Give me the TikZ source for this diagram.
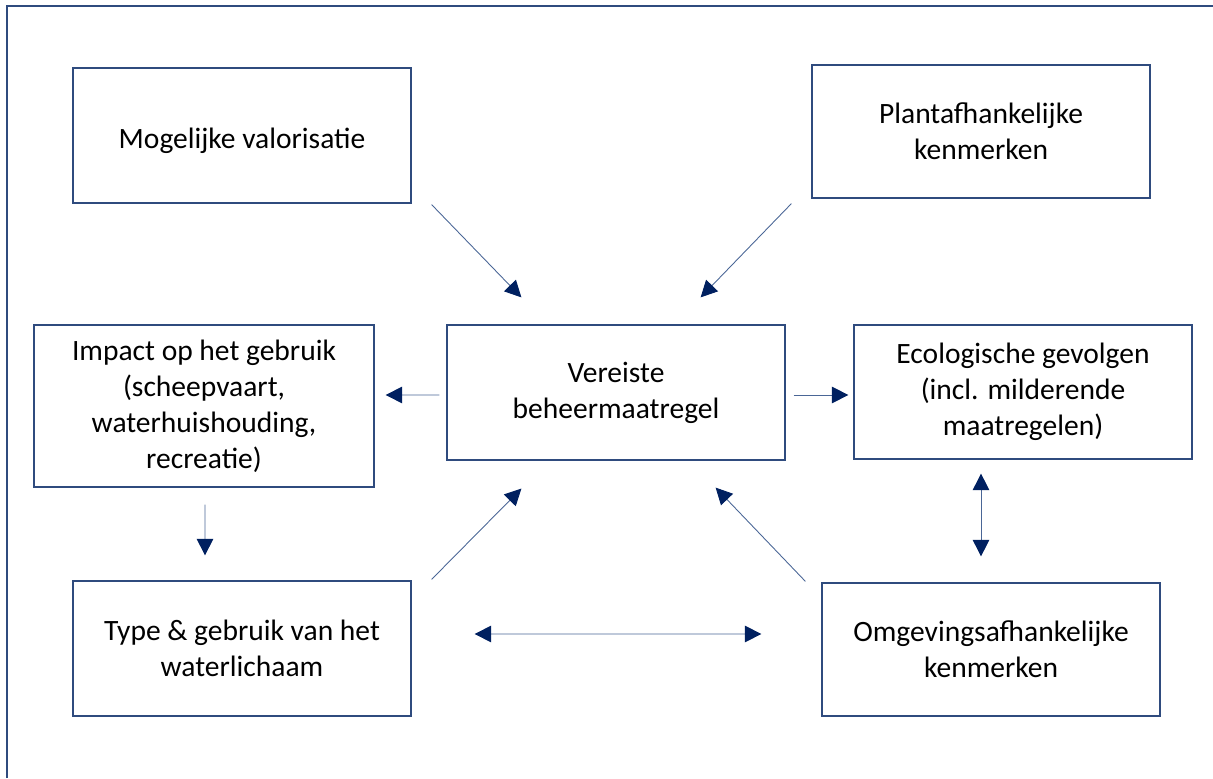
\documentclass[tikz,border=0pt]{standalone}
\usepackage{fontspec}
\setmainfont{Carlito}
\usetikzlibrary{arrows.meta}
\definecolor{framecol}{HTML}{2F4B7E}
\definecolor{linkcol}{HTML}{4A6696}
\definecolor{tipcol}{HTML}{002060}

\begin{document}
\begin{tikzpicture}[
    box/.style={draw=framecol,line width=0.7pt,minimum width=6.76cm,minimum height=2.70cm,align=center,font=\fontsize{16.8}{20.5}\selectfont,execute at begin node={\rule{0pt}{17.5pt}}},
    tip/.tip={Triangle[length=0.33cm,width=0.33cm,color=tipcol,fill=tipcol]},
    link/.style={draw=linkcol,line width=0.5pt,-tip},
    both/.style={draw=linkcol,line width=0.5pt,tip-tip}
    ]
    \useasboundingbox (0,0) rectangle (24.26,15.56);
    \draw[framecol,line width=0.7pt] (0.14,0) -- (0.14,15.44) -- (24.26,15.44);

    \node[box] (mog) at (4.84,12.85) {Mogelijke valorisatie};
    \node[box,minimum height=2.66cm] (plant) at (19.62,12.93) {Plantafhankelijke\\kenmerken};
    \node[box,minimum width=6.80cm,minimum height=3.24cm] (imp) at (4.08,7.44) {Impact op het gebruik\\(scheepvaart,\\waterhuishouding,\\recreatie)};
    \node[box] (ver) at (12.32,7.71) {Vereiste\\beheermaatregel};
    \node[box,minimum height=2.68cm] (eco) at (20.46,7.72) {Ecologische gevolgen\\(incl. milderende\\maatregelen)};
    \node[box] (type) at (4.84,2.59) {Type \& gebruik van het\\waterlichaam};
    \node[box,minimum height=2.66cm] (omg) at (19.82,2.57) {Omgevingsafhankelijke\\kenmerken};

    \draw[link] ([shift={(0.40,-0.02)}]mog.south east) -- ([shift={(1.50,0.54)}]ver.north west);
    \draw[link] ([shift={(-0.40,-0.10)}]plant.south west) -- ([shift={(-1.70,0.54)}]ver.north east);
    \draw[link] ([shift={(-0.14,-0.05)}]ver.west) -- ([shift={(0.22,0.22)}]imp.east);
    \draw[link] ([shift={(0.16,-0.05)}]ver.east) -- ([shift={(-0.10,-0.06)}]eco.west);
    \draw[link] ([shift={(0.02,-0.34)}]imp.south) -- ([shift={(-0.74,0.50)}]type.north);
    \draw[link] ([shift={(0.40,0.02)}]type.north east) -- ([shift={(1.50,-0.56)}]ver.south west);
    \draw[link] ([shift={(-0.32,0.02)}]omg.north west) -- ([shift={(-1.40,-0.54)}]ver.south east);
    \draw[both] ([shift={(-0.84,-0.28)}]eco.south) -- ([shift={(-0.20,0.52)}]omg.north);
    \draw[both] ([shift={(1.26,0.29)}]type.east) -- ([shift={(-1.20,0.31)}]omg.west);
\end{tikzpicture}
\end{document}
